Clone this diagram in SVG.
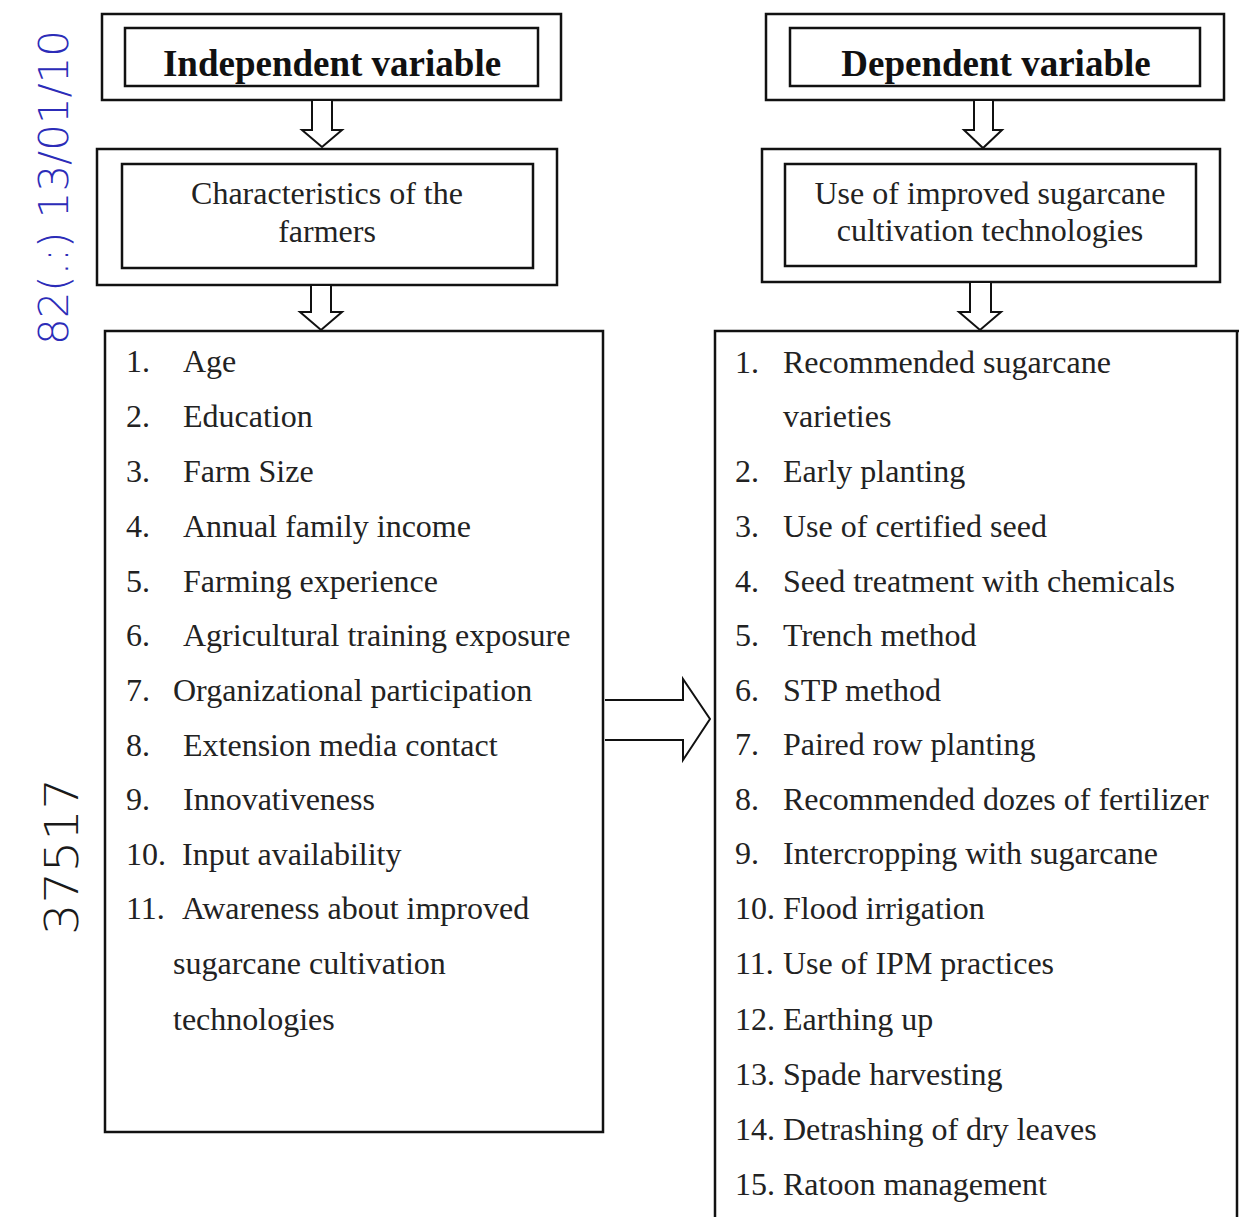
<svg xmlns="http://www.w3.org/2000/svg" width="1239" height="1217" viewBox="0 0 1239 1217">
<style>
.box{fill:none;stroke:#111;stroke-width:2.5}
.arr{fill:#fff;stroke:#111;stroke-width:2}
.t{font-family:"Liberation Serif","Times New Roman",serif;font-size:32px;fill:#222}
.h{font-family:"Liberation Serif","Times New Roman",serif;font-size:37px;font-weight:bold;fill:#111}
.hw{font-family:"DejaVu Sans",sans-serif;font-weight:300}
</style>
<rect width="1239" height="1217" fill="#fff"/>
<text class="hw" fill="#2c2cb8" font-size="40" textLength="315" lengthAdjust="spacingAndGlyphs" transform="translate(68,345) rotate(-90)">82(.:) 13/01/10</text>
<text class="hw" fill="#1a1a1a" font-size="46" textLength="157" lengthAdjust="spacingAndGlyphs" transform="translate(78,935) rotate(-90)">37517</text>
<g id="indep-var">
<rect class="box" x="102" y="14" width="459" height="86"/>
<rect class="box" x="125" y="28" width="413" height="58"/>
<text class="h" x="332" y="76" text-anchor="middle">Independent variable</text>
</g>
<g id="characteristics">
<rect class="box" x="97" y="149" width="460" height="136"/>
<rect class="box" x="122" y="164" width="411" height="104"/>
<text class="t" x="327" y="204" text-anchor="middle">Characteristics of the</text>
<text class="t" x="327" y="242" text-anchor="middle">farmers</text>
</g>
<g id="indep-list">
<rect class="box" x="105" y="331" width="498" height="801"/>
<text class="t" x="126" y="372">1.</text><text class="t" x="183" y="372">Age</text>
<text class="t" x="126" y="427">2.</text><text class="t" x="183" y="427">Education</text>
<text class="t" x="126" y="482">3.</text><text class="t" x="183" y="482">Farm Size</text>
<text class="t" x="126" y="537">4.</text><text class="t" x="183" y="537">Annual family income</text>
<text class="t" x="126" y="592">5.</text><text class="t" x="183" y="592">Farming experience</text>
<text class="t" x="126" y="646">6.</text><text class="t" x="183" y="646">Agricultural training exposure</text>
<text class="t" x="126" y="701">7.</text><text class="t" x="173" y="701">Organizational participation</text>
<text class="t" x="126" y="756">8.</text><text class="t" x="183" y="756">Extension media contact</text>
<text class="t" x="126" y="810">9.</text><text class="t" x="183" y="810">Innovativeness</text>
<text class="t" x="126" y="865">10.</text><text class="t" x="182" y="865">Input availability</text>
<text class="t" x="126" y="919">11.</text><text class="t" x="182" y="919">Awareness about improved</text>
<text class="t" x="173" y="974">sugarcane cultivation</text>
<text class="t" x="173" y="1030">technologies</text>
</g>
<g id="dep-var">
<rect class="box" x="766" y="14" width="458" height="86"/>
<rect class="box" x="790" y="28" width="410" height="58"/>
<text class="h" x="996" y="76" text-anchor="middle">Dependent variable</text>
</g>
<g id="use-tech">
<rect class="box" x="762" y="149" width="458" height="133"/>
<rect class="box" x="785" y="164" width="411" height="102"/>
<text class="t" x="990" y="204" text-anchor="middle">Use of improved sugarcane</text>
<text class="t" x="990" y="241" text-anchor="middle">cultivation technologies</text>
</g>
<g id="dep-list">
<path class="box" d="M1239,331 H715 V1230"/>
<path class="box" d="M1237,331 V1230"/>
<text class="t" x="735" y="373">1.</text><text class="t" x="783" y="373">Recommended sugarcane</text>
<text class="t" x="783" y="427">varieties</text>
<text class="t" x="735" y="482">2.</text><text class="t" x="783" y="482">Early planting</text>
<text class="t" x="735" y="537">3.</text><text class="t" x="783" y="537">Use of certified seed</text>
<text class="t" x="735" y="592">4.</text><text class="t" x="783" y="592">Seed treatment with chemicals</text>
<text class="t" x="735" y="646">5.</text><text class="t" x="783" y="646">Trench method</text>
<text class="t" x="735" y="701">6.</text><text class="t" x="783" y="701">STP method</text>
<text class="t" x="735" y="755">7.</text><text class="t" x="783" y="755">Paired row planting</text>
<text class="t" x="735" y="810">8.</text><text class="t" x="783" y="810">Recommended dozes of fertilizer</text>
<text class="t" x="735" y="864">9.</text><text class="t" x="783" y="864">Intercropping with sugarcane</text>
<text class="t" x="735" y="919">10.</text><text class="t" x="783" y="919">Flood irrigation</text>
<text class="t" x="735" y="974">11.</text><text class="t" x="783" y="974">Use of IPM practices</text>
<text class="t" x="735" y="1030">12.</text><text class="t" x="783" y="1030">Earthing up</text>
<text class="t" x="735" y="1085">13.</text><text class="t" x="783" y="1085">Spade harvesting</text>
<text class="t" x="735" y="1140">14.</text><text class="t" x="783" y="1140">Detrashing of dry leaves</text>
<text class="t" x="735" y="1195">15.</text><text class="t" x="783" y="1195">Ratoon management</text>
</g>
<g id="connectors">
<path class="arr" d="M312,101 V130 H302 L322,147 L342,130 H332 V101"/>
<path class="arr" d="M311,286 V312 H300 L321,330 L342,312 H331 V286"/>
<path class="arr" d="M974,101 V130 H964 L983,148 L1002,130 H993 V101"/>
<path class="arr" d="M970,283 V312 H959 L980,330 L1001,312 H991 V283"/>
<path class="arr" d="M605,700 H683 V679 L710,719 L683,760 V740 H605"/>
</g>
</svg>
